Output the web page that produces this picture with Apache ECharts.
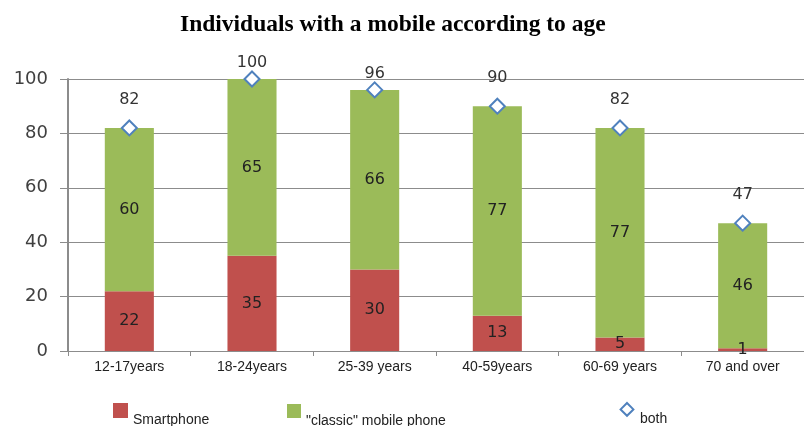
<!DOCTYPE html>
<html>
<head>
<meta charset="utf-8">
<script src="https://cdn.jsdelivr.net/npm/echarts@6/dist/echarts.min.js"></script>
<style>
  html, body { margin: 0; padding: 0; background: #fff; }
  #chart { width: 804px; height: 426px; }
</style>
</head>
<body>
<div id="chart"></div>
<script>
// 年龄分组
var categories = ['12-17years', '18-24years', '25-39 years', '40-59years', '60-69 years', '70 and over'];
// 各系列数值
var smartphone = [22, 35, 30, 13, 5, 1];
var classic = [60, 65, 66, 77, 77, 46];
var both = [82, 100, 96, 90, 82, 47];
// y轴刻度
var yTicks = [0, 20, 40, 60, 80, 100];

var chart = echarts.init(document.getElementById('chart'), null, { renderer: 'canvas' });

// 图例文字比图标低一些
var legendText = {
  rich: { t: { fontFamily: 'Liberation Sans', fontSize: 14, color: '#222', padding: [20, 0, 0, 0] } }
};

var labelFont = { fontFamily: 'DejaVu Sans', fontSize: 16, color: '#222' };

chart.setOption({
  animation: false,
  title: {
    text: 'Individuals with a mobile according to age',
    left: 175,
    top: 8,
    textStyle: { fontFamily: 'Liberation Serif', fontWeight: 'bold', fontSize: 23.5, color: '#000' }
  },
  legend: [
    { data: [{ name: 'Smartphone', icon: 'rect' }], formatter: '{t|{name}}', left: 108, top: 398, itemWidth: 15, itemHeight: 15, textStyle: legendText },
    { data: [{ name: '"classic" mobile phone', icon: 'rect' }], formatter: '{t|{name}}', left: 282, top: 399, itemWidth: 14, itemHeight: 14, textStyle: legendText },
    { data: ['both'], formatter: '{t|{name}}', left: 614, top: 397, itemWidth: 16, itemHeight: 16, textStyle: legendText }
  ],
  grid: { left: 68, right: -8, top: 79, bottom: 75, containLabel: false },
  xAxis: {
    type: 'category',
    data: categories,
    axisLine: { lineStyle: { color: '#8c8c8c', width: 1 } },
    axisTick: { show: true, length: 5, lineStyle: { color: '#8c8c8c' } },
    axisLabel: { fontFamily: 'Liberation Sans', fontSize: 14, color: '#222', margin: 9 }
  },
  yAxis: {
    type: 'value',
    min: yTicks[0],
    max: yTicks[yTicks.length - 1],
    interval: 20,
    axisLine: { show: true, lineStyle: { color: '#8c8c8c', width: 2 } },
    axisTick: { show: true, length: 8, inside: false, lineStyle: { color: '#8c8c8c' } },
    splitLine: { lineStyle: { color: '#8c8c8c', width: 1 } },
    axisLabel: { fontFamily: 'DejaVu Sans', fontSize: 18, color: '#404040', margin: 20 }
  },
  series: [
    {
      name: 'Smartphone',
      type: 'bar',
      stack: 'total',
      barWidth: '40%',
      itemStyle: { color: '#c0504d' },
      label: Object.assign({ show: true, position: 'inside' }, labelFont),
      data: smartphone
    },
    {
      name: '"classic" mobile phone',
      type: 'bar',
      stack: 'total',
      barWidth: '40%',
      itemStyle: { color: '#9bbb59' },
      label: Object.assign({ show: true, position: 'inside' }, labelFont),
      data: classic
    },
    {
      name: 'both',
      type: 'line',
      symbol: 'diamond',
      symbolSize: 15,
      lineStyle: { width: 0, opacity: 0 },
      itemStyle: { color: '#fff', borderColor: '#4f81bd', borderWidth: 2 },
      label: Object.assign({ show: true, position: 'top', distance: 12 }, labelFont, { color: '#333' }),
      z: 5,
      // 顶部的标签被标题挤得更近
      data: both.map(function (v) {
        return v >= 95 ? { value: v, label: { distance: 0 } } : v;
      })
    }
  ]
});
</script>
</body>
</html>
